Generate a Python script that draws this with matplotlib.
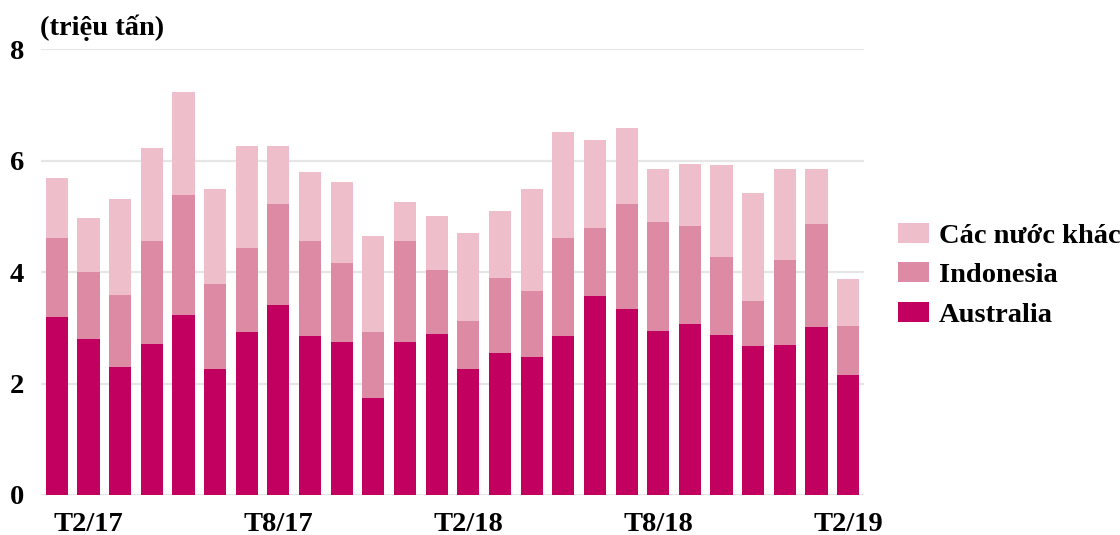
import matplotlib
matplotlib.use("Agg")
import matplotlib.pyplot as plt
import numpy as np

months = ["T1/17", "T2/17", "T3/17", "T4/17", "T5/17", "T6/17", "T7/17", "T8/17",
          "T9/17", "T10/17", "T11/17", "T12/17", "T1/18", "T2/18", "T3/18", "T4/18",
          "T5/18", "T6/18", "T7/18", "T8/18", "T9/18", "T10/18", "T11/18", "T12/18",
          "T1/19", "T2/19"]
australia = [3.20, 2.80, 2.29, 2.71, 3.23, 2.26, 2.92, 3.41, 2.86, 2.74, 1.74, 2.74, 2.89,
             2.26, 2.55, 2.47, 2.85, 3.58, 3.34, 2.95, 3.07, 2.88, 2.67, 2.70, 3.01, 2.16]
indonesia_top = [4.62, 4.00, 3.59, 4.56, 5.38, 3.78, 4.44, 5.23, 4.56, 4.16, 2.92, 4.56, 4.04,
                 3.13, 3.89, 3.67, 4.62, 4.80, 5.23, 4.90, 4.83, 4.28, 3.49, 4.22, 4.86, 3.04]
total = [5.69, 4.98, 5.31, 6.23, 7.23, 5.50, 6.26, 6.26, 5.80, 5.62, 4.65, 5.26, 5.01,
         4.71, 5.10, 5.50, 6.52, 6.38, 6.59, 5.86, 5.95, 5.92, 5.43, 5.86, 5.86, 3.88]
indonesia = [round(b - a, 2) for a, b in zip(australia, indonesia_top)]
others = [round(c - b, 2) for b, c in zip(indonesia_top, total)]

shown_ticks = ["T2/17", "T8/17", "T2/18", "T8/18", "T2/19"]
yticks = [0, 2, 4, 6, 8]

c_aus = "#C2005F"
c_indo = "#DD8AA4"
c_oth = "#EEBFCB"

FS = 20.5
plt.rcParams["font.family"] = ["Liberation Serif", "DejaVu Serif"]
plt.rcParams["font.weight"] = "bold"

fig = plt.figure(figsize=(11.2, 5.35), dpi=100)
ax = fig.add_axes([41 / 1120, 40 / 535, (864 - 41) / 1120, (495 - 49.4) / 535])

x = np.arange(len(months))
w = 0.70
b1 = ax.bar(x, australia, w, color=c_aus, label="Australia", zorder=3)
b2 = ax.bar(x, indonesia, w, bottom=australia, color=c_indo, label="Indonesia", zorder=3)
b3 = ax.bar(x, others, w, bottom=indonesia_top, color=c_oth, label="Các nước khác", zorder=3)

ax.set_xlim(-0.5, len(months) - 0.5)
ax.set_ylim(0, 8)
ax.set_yticks(yticks)
ax.set_yticklabels([str(v) for v in yticks], fontsize=FS, fontweight="bold")
tick_pos = [months.index(m) for m in shown_ticks]
ax.set_xticks(tick_pos)
ax.set_xticklabels(shown_ticks, fontsize=FS, fontweight="bold")
ax.tick_params(axis="both", length=0)
ax.tick_params(axis="y", pad=12)
ax.tick_params(axis="x", pad=12)
for s in ax.spines.values():
    s.set_visible(False)
ax.grid(axis="y", color="#E6E6E6", linewidth=1.6, zorder=0)
ax.set_axisbelow(True)

fig.text(40 / 1120, 1 - 28 / 535, "(triệu tấn)", fontsize=FS, fontweight="bold",
         ha="left", va="center")

leg = fig.legend(handles=[b3, b2, b1], labels=["Các nước khác", "Indonesia", "Australia"],
                 loc="upper left", bbox_to_anchor=(898 / 1120, 1 - 223 / 535),
                 frameon=False, prop={"weight": "bold", "size": FS},
                 handlelength=1.1, handleheight=0.7, handletextpad=0.33,
                 labelspacing=0.47, borderpad=0, borderaxespad=0)

fig.savefig("out.png", dpi=100)
